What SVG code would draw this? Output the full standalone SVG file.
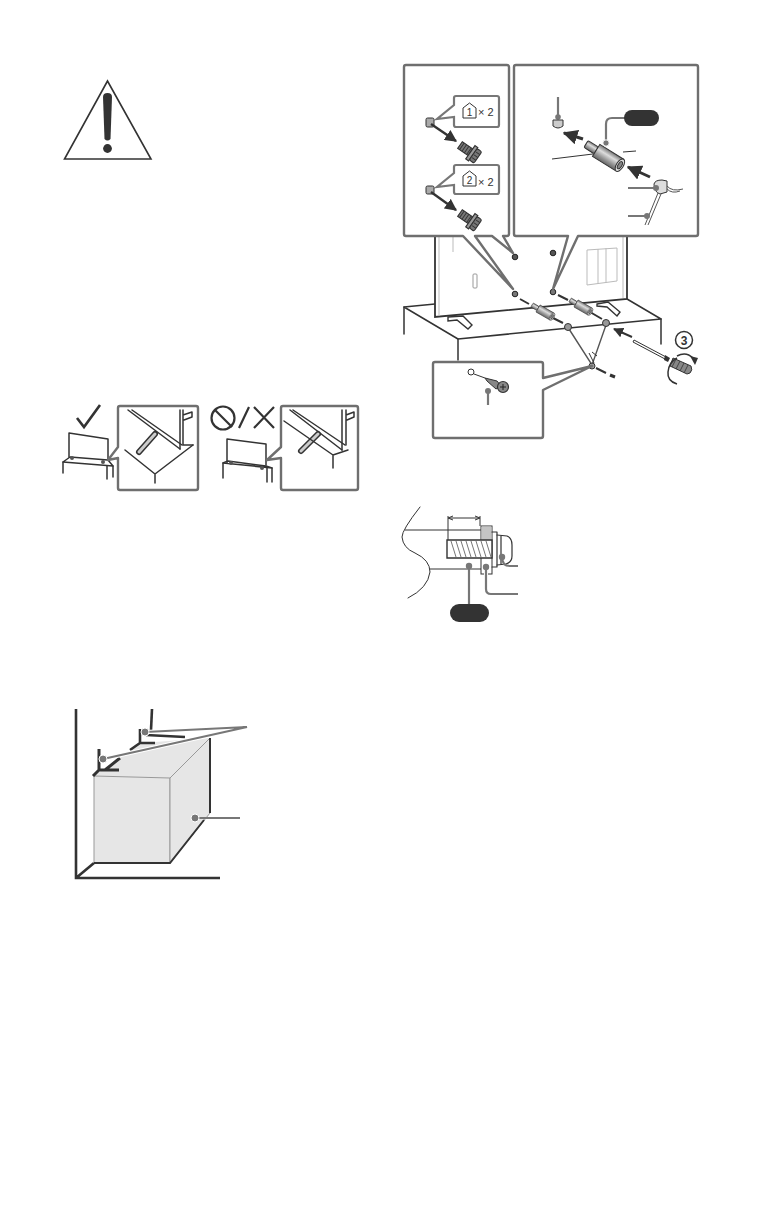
<svg xmlns="http://www.w3.org/2000/svg" width="777" height="1209" viewBox="0 0 777 1209">
<defs>
<linearGradient id="cyl" x1="0" y1="0" x2="0" y2="1">
<stop offset="0" stop-color="#777"/><stop offset=".35" stop-color="#ddd"/><stop offset=".7" stop-color="#999"/><stop offset="1" stop-color="#666"/>
</linearGradient>
<g id="spacer">
<rect x="0" y="-4" width="12" height="8" rx="1.500" fill="url(#cyl)" stroke="#333"/>
<rect x="12" y="-7" width="28" height="14" fill="url(#cyl)" stroke="#333"/>
<ellipse cx="40" cy="0" rx="3.500" ry="7" fill="#ddd" stroke="#333"/>
<ellipse cx="40" cy="0" rx="1.800" ry="4" fill="#888" stroke="#333"/>
</g>
<g id="bolt">
<rect x="0" y="-3.500" width="11" height="7" fill="#777" stroke="#333"/>
<path d="M2 -3.500 V3.500 M4.500 -3.500 V3.500 M7 -3.500 V3.500 M9.500 -3.500 V3.500" stroke="#333" stroke-width=".8"/>
<rect x="11" y="-7" width="3" height="14" fill="#999" stroke="#333"/>
<rect x="14" y="-6" width="5" height="12" rx="1.500" fill="#777" stroke="#333"/>
<path d="M15 -3 H19 M15 0 H19 M15 3 H19" stroke="#333" stroke-width=".8"/>
</g>
<marker id="ah" markerWidth="5" markerHeight="5" refX="4.500" refY="2.500" orient="auto"><path d="M0 0 L5 2.500 L0 5 Z" fill="#333"/></marker>
</defs>
<style>
.co{fill:#fff;stroke:#6f6f6f;stroke-width:2.400;stroke-linejoin:round}
.k{fill:none;stroke:#333;stroke-width:1.500;stroke-linejoin:round;stroke-linecap:round}
.kt{fill:none;stroke:#333;stroke-width:1}
.ld{fill:none;stroke:#777;stroke-width:2.200}
.dot{fill:#777}
.pill{fill:#333}
.lt{fill:none;stroke:#bbb;stroke-width:1}
.a{fill:none;stroke:#333;stroke-width:2.400;marker-end:url(#ah)}
.ft{fill:none;stroke:#333;stroke-width:6;stroke-linecap:round}
.fi{fill:none;stroke:#ccc;stroke-width:3;stroke-linecap:round}
.t{font-family:"Liberation Sans",Arial,sans-serif;font-size:12px;fill:#333}
.d{fill:none;stroke:#333;stroke-width:2}
</style>

<g id="warning">
<path d="M107.500 81 L64.500 159 L151 159 Z" fill="#fff" stroke="#333" stroke-width="1.600"/>
<path d="M103 97 Q103 93 107.500 93 Q112 93 112 97 L110.500 139 Q107.500 142 104.500 139 Z" fill="#333"/>
<circle cx="107.500" cy="148.500" r="4.400" fill="#333"/>
</g>

<g id="correct-stand">
<path d="M77 418 L84 427 L100 405" fill="none" stroke="#333" stroke-width="2.600"/>
<path d="M69 457 L69 433 L108 439 L108 460" class="k"/>
<path d="M63 462 L70 457 L108 460 L113 466 Z" class="k" fill="#fff"/>
<path d="M63 462 L63 473 M113 466 L113 477 M107 466 L107 479" class="k"/>
<circle cx="72" cy="458" r="2" fill="#555"/><circle cx="103" cy="462" r="2" fill="#555"/>
<path d="M120 406 L196 406 Q198 406 198 408 L198 488 Q198 490 196 490 L120 490 Q118 490 118 488 L118 458 L108 460 L118 447 L118 408 Q118 406 120 406 Z" class="co"/>
<path d="M128 410 L180 449 M132 410 L182 445" class="k"/>
<path d="M180 410 L180 449 M183 410 L183 445 L193 445 M183 415 L192 412 L192 417 L184 420" class="k"/>
<path d="M155 434 L139 452" class="ft"/><path d="M155 434 L139 452" class="fi"/>
<path d="M125 450 L155 474 L193 445 M155 474 L155 483" class="k"/>
</g>

<g id="wrong-stand">
<circle cx="223" cy="418" r="11.500" fill="none" stroke="#333" stroke-width="2.200"/>
<path d="M215 410 L232 427 M239 428 L249 407 M254 407 L274 428 M274 407 L254 428" fill="none" stroke="#333" stroke-width="2.200"/>
<path d="M227 463 L227 439 L266 444 L266 465" class="k"/>
<path d="M223 463 L228 461 L266 466 L272 468 Z" class="k" fill="#fff"/>
<path d="M223 463 L223 478 M272 468 L272 482 M267 468 L267 482" class="k"/>
<circle cx="231" cy="463" r="2" fill="#555"/><circle cx="262" cy="468" r="2" fill="#555"/>
<path d="M283 406 L356 406 Q358 406 358 408 L358 488 Q358 490 356 490 L283 490 Q281 490 281 488 L281 458 L267 460 L281 447 L281 408 Q281 406 283 406 Z" class="co"/>
<path d="M290 410 L342 450 M293 410 L345 445" class="k"/>
<path d="M342 410 L342 450 M346 410 L346 445 M346 415 L354 412 L354 417 L347 420" class="k"/>
<path d="M318 434 L301 451" class="ft"/><path d="M318 434 L301 451" class="fi"/>
<path d="M284 421 L333 455 L348 450 M333 455 L333 468" class="k"/>
</g>

<g id="tv">
<path d="M404 307 L435 304 M627 299 L661 319 L458 339 L404 307" class="k"/>
<path d="M404 307 L404 334 M458 339 L458 360 M661 319 L661 344" class="k"/>
<path d="M435 236 L435 317 L627 299 L627 236" fill="#fff" stroke="#333" stroke-width="1.800"/>
<path d="M439 236 L439 316 M453 236 L453 252 M623 236 L623 298" class="lt"/>
<path d="M587 250 L617 248 L617 281 L587 285 Z M598 249 L598 284 M606 248 L606 283" class="lt"/>
<rect x="473" y="274" width="4" height="14" rx="1" fill="none" stroke="#999"/>
<path d="M448 317 L463 316 L472 325 L468 329 L457 320 L448 321 Z" fill="#fff" stroke="#333" stroke-width="1.400"/>
<path d="M597 304 L608 302 L620 312 L617 316 L607 307 L597 306 Z" fill="#fff" stroke="#333" stroke-width="1.400"/>
<circle cx="515" cy="257" r="2.800" fill="#555" stroke="#222"/><circle cx="553" cy="253" r="2.800" fill="#555" stroke="#222"/>
<circle cx="515" cy="294" r="2.800" fill="#777" stroke="#222"/><circle cx="553" cy="292" r="2.800" fill="#777" stroke="#222"/>
</g>

<g id="assembly">
<path d="M520 299 L529 304 M553 318 L563 323 M558 295 L568 300 M590 312 L602 319" class="d"/>
<use href="#spacer" transform="translate(532 305) rotate(30) scale(.58)"/>
<use href="#spacer" transform="translate(570 300) rotate(30) scale(.58)"/>
<path d="M569 329 L592 365 L606 325" fill="none" stroke="#555" stroke-width="1.400"/>
<circle cx="568" cy="327" r="3.500" fill="#999" stroke="#333"/>
<circle cx="606" cy="323" r="3.500" fill="#999" stroke="#333"/>
<circle cx="592" cy="366" r="3" fill="#999" stroke="#333"/>
<path d="M589 353 L594 363 M597 356 L592 352" class="kt"/>
<path d="M596 368 L606 373" class="d"/>
<path d="M610 375 L615 377" stroke="#333" stroke-width="3"/>
<path d="M632 337 L614 329" class="a" style="stroke-width:2"/>
<path d="M634 340 L666 357 L665 359 L633 342 Z" fill="#fff" stroke="#333"/>
<path d="M665 355 L670 358 L668 362 L664 360 Z" fill="#333"/>
<path d="M673 358 L691 366 Q693 370 690 373 L687 374 L670 366 Z" fill="#888" stroke="#333"/>
<path d="M676 359 L672 367 M680 361 L676 369 M684 363 L680 371 M688 365 L684 373" stroke="#333" stroke-width=".8"/>
<circle cx="684" cy="340" r="8.500" fill="#fff" stroke="#333" stroke-width="1.500"/>
<text class="t" x="684" y="344.500" text-anchor="middle" font-weight="bold" style="font-size:12px">3</text>
<path d="M677 384 Q667 381 668 372 Q669 362 677 358 M677 356 Q686 351 693 358" fill="none" stroke="#333" stroke-width="1.500"/>
<path d="M690 356 L698 358 L695 365 Z" fill="#333"/>
</g>

<g id="callout-remove">
<path d="M406 65 L507 65 Q509 65 509 67 L509 234 Q509 236 507 236 L503 236 L513 253 L492 236 L475 236 L513 289 L463 236 L406 236 Q404 236 404 234 L404 67 Q404 65 406 65 Z" class="co"/>
<path d="M456 96 L497 96 Q499 96 499 98 L499 125 Q499 127 497 127 L456 127 Q454 127 454 125 L454 117 L437 119 L454 105 L454 98 Q454 96 456 96 Z" fill="#fff" stroke="#777" stroke-width="2.200"/>
<path d="M463 118 L463 108 L469.500 103 L476 108 L476 118 Z" fill="#fff" stroke="#333"/>
<text class="t" x="469.500" y="116" text-anchor="middle" style="font-size:10px">1</text>
<text class="t" x="478" y="116" style="font-size:11px">× 2</text>
<path d="M456 165 L497 165 Q499 165 499 167 L499 192 Q499 194 497 194 L456 194 Q454 194 454 192 L454 185 L437 187 L454 173 L454 167 Q454 165 456 165 Z" fill="#fff" stroke="#777" stroke-width="2.200"/>
<path d="M463 186 L463 176 L469.500 171 L476 176 L476 186 Z" fill="#fff" stroke="#333"/>
<text class="t" x="469.500" y="184" text-anchor="middle" style="font-size:10px">2</text>
<text class="t" x="478" y="186" style="font-size:11px">× 2</text>
<rect x="426" y="118" width="8" height="9" rx="1.500" fill="#aaa" stroke="#333"/>
<rect x="426" y="186" width="8" height="8" rx="1.500" fill="#aaa" stroke="#333"/>
<path d="M431 124 L456 141" class="a"/>
<path d="M431 192 L456 210" class="a"/>
<use href="#bolt" transform="translate(460 145) rotate(35) scale(1.150)"/>
<use href="#bolt" transform="translate(460 213) rotate(35) scale(1.150)"/>
</g>

<g id="callout-spacer">
<path d="M516 65 L696 65 Q698 65 698 67 L698 234 Q698 236 696 236 L578 236 L553 289 L568 236 L516 236 Q514 236 514 234 L514 67 Q514 65 516 65 Z" class="co"/>
<path d="M558 97 L558 117" class="ld"/><circle cx="558" cy="117" r="2.800" class="dot"/>
<path d="M553 120 L563 120 L563 126 Q558 130 553 126 Z" fill="#ccc" stroke="#333"/>
<path d="M583 139 L564 133" class="a" style="stroke-width:3"/>
<path d="M552 159 L593 154 M623 152 L636 151" class="kt"/>
<use href="#spacer" transform="translate(586 144) rotate(32)"/>
<path d="M650 177 L628 167" class="a" style="stroke-width:3"/>
<path d="M606 143 L606 124 Q606 118 612 118 L626 118" class="ld"/>
<circle cx="606" cy="143" r="3.200" class="dot" stroke="#fff"/>
<rect x="624" y="110" width="35" height="16" rx="8" class="pill"/>
<path d="M654 184 Q655 180 662 180 L667 181 L667 192 L660 194 Q654 192 654 184 Z" fill="#ddd" stroke="#333"/>
<path d="M667 186 Q672 192 683 189 M667 189 Q672 194 680 191 M658 193 L645 225 M661 194 L648 225" fill="none" stroke="#555" stroke-width="1"/>
<path d="M628 188 L656 188 M628 216 L647 216" class="ld"/>
<circle cx="656" cy="188" r="3" class="dot"/><circle cx="647" cy="216" r="3" class="dot"/>
</g>

<g id="callout-screw">
<path d="M435 362 L541 362 Q543 362 543 364 L543 378 L592 366 L543 390 L543 436 Q543 438 541 438 L435 438 Q433 438 433 436 L433 364 Q433 362 435 362 Z" class="co"/>
<circle cx="471" cy="372" r="3" fill="#fff" stroke="#333"/>
<path d="M474 374 L485 378" stroke="#333"/>
<path d="M485 378 L497 381 L501 386 L496 389 L487 381 Z" fill="#888" stroke="#333"/>
<circle cx="503" cy="387" r="5.500" fill="#888" stroke="#333" stroke-width="1.200"/>
<path d="M500 387 H506 M503 384 V390" stroke="#222"/>
<path d="M488 391 L488 405" class="ld"/>
<circle cx="488" cy="391" r="3" class="dot"/>
</g>

<g id="bolt-section">
<path d="M420 507 Q402 530 402 537 Q403 548 415 553 Q430 560 430 572 Q428 588 408 598" class="k" style="stroke-width:1"/>
<path d="M405 530 L481 530 M430 569 L481 569" class="kt"/>
<path d="M449 518 L479 518" class="kt"/>
<path d="M448 518 L453 516 M448 518 L453 520 M480 518 L475 516 M480 518 L475 520 M448 516 L448 540 M480 516 L480 526" class="kt"/>
<rect x="481" y="526" width="11" height="48" fill="#fff" stroke="#333"/>
<rect x="481.500" y="526.500" width="10" height="13.500" fill="#c4c4c4"/>
<path d="M447 540 L492 540 L492 558 L447 558 Z" fill="#fff" stroke="#333" stroke-width="1.400"/>
<path d="M451 541 L456 557 M456 541 L461 557 M461 541 L466 557 M466 541 L471 557 M471 541 L476 557 M476 541 L481 557 M481 541 L486 557 M486 541 L491 557" stroke="#777" stroke-width="1"/>
<path d="M492 532 L497 532 L497 567 L492 567" class="k" style="stroke-width:1.200"/>
<path d="M497 535 L507 536 Q512 538 512 545 L512 556 Q512 562 506 564 L497 565 M501 536 L501 564" class="k" style="stroke-width:1.200"/>
<path d="M469 566 L469 606" class="ld"/>
<path d="M486 567 L486 589 Q486 594 491 594 L518 594" fill="none" stroke="#fff" stroke-width="4"/>
<path d="M486 567 L486 589 Q486 594 491 594 L518 594 M502 557 Q502 566 510 566 L518 566" class="ld"/>
<circle cx="469" cy="566" r="3.200" class="dot"/><circle cx="486" cy="567" r="3.200" class="dot"/><circle cx="502" cy="557" r="3.200" class="dot"/>
<rect x="450" y="604" width="39" height="18" rx="9" class="pill"/>
</g>

<g id="cabinet">
<path d="M76 709 L76 878 L220 878 M76 878 L94 863" fill="none" stroke="#333" stroke-width="2.600"/>
<path d="M152 709 L151 730" fill="none" stroke="#333" stroke-width="2.600"/>
<path d="M94 776 L141 743 L210 738 L170 778 Z" fill="#e6e6e6"/>
<path d="M94 776 L170 778 L170 863 L94 863 Z" fill="#e6e6e6" stroke="#999"/>
<path d="M170 778 L210 738 L210 813 L170 863 Z" fill="#e6e6e6" stroke="#999"/>
<path d="M94 863 L170 863 L204 820 M210 738 L210 813" fill="none" stroke="#333" stroke-width="2"/>
<path d="M140 729 L140 743 L155 743 M140 743 L130 750 M146 735 L185 737" fill="none" stroke="#333" stroke-width="2.600"/>
<path d="M99 749 L99 770 L119 770 M99 770 L93 776 M105 770 L120 758" fill="none" stroke="#333" stroke-width="3"/>
<path d="M145 732 L247 727 L103 759" fill="none" stroke="#fff" stroke-width="4"/>
<path d="M145 732 L247 727 L103 759" fill="none" stroke="#777" stroke-width="2"/>
<circle cx="145" cy="732" r="4" class="dot" stroke="#fff"/><circle cx="103" cy="759" r="4" class="dot" stroke="#fff"/>
<path d="M195 818 L240 818" class="ld"/>
<circle cx="195" cy="818" r="4" class="dot" stroke="#fff"/>
</g>
</svg>
